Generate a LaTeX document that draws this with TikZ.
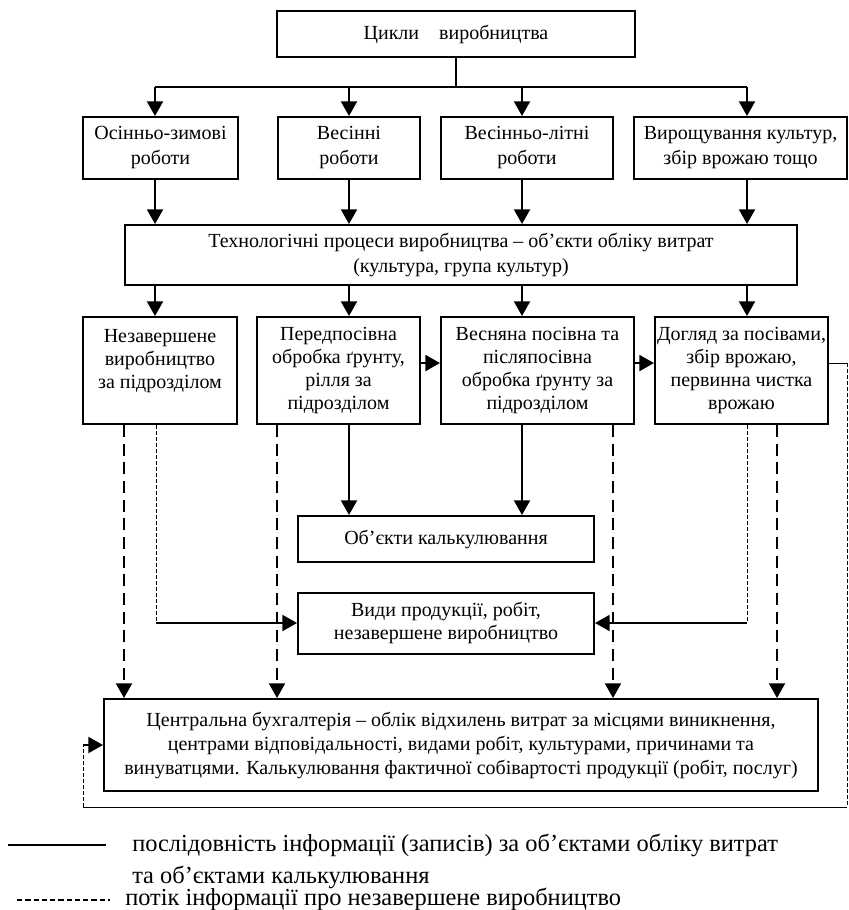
\documentclass[tikz,border=0pt]{standalone}
\usepackage{fontspec}
\setmainfont{Liberation Serif}
\usetikzlibrary{arrows.meta}
\tikzset{font=\fontsize{15}{18.75}\selectfont}
\tikzset{
  box/.style={draw,line width=1.5pt,align=center,inner sep=0pt},
  sz/.style 2 args={minimum width=#1*0.75pt,minimum height=#2*0.75pt},
  arr/.style={line width=1.5pt,-{Triangle[length=11pt,width=12pt]}},
  darr/.style={line width=1.5pt,dash pattern=on 9pt off 5pt,-{Triangle[length=11pt,width=12pt]}},
  tdash/.style={line width=0.7pt,dash pattern=on 3pt off 1.5pt},
  tight/.style={font=\fontsize{15}{17.4}\selectfont},
  legfont/.style={font=\fontsize{18.3}{24}\selectfont}}

\begin{document}
\begin{tikzpicture}[x=0.75pt,y=-0.75pt]
  \useasboundingbox (0,0) rectangle (849,910);
  % columns of the arrows
  \coordinate (c1) at (155,87);
  \coordinate (c2) at (349,87);
  \coordinate (c3) at (522,87);
  \coordinate (c4) at (747,87);
  \coordinate (d1) at (124,0);
  \coordinate (d2) at (277,0);
  \coordinate (d3) at (613,0);
  \coordinate (d4) at (777,0);
  \coordinate (t1) at (156,0);
  \coordinate (t2) at (747,0);
  \coordinate (fr) at (847,807);
  \coordinate (fl) at (83,807);
  % boxes
  \node[box,sz={358}{46}] (cycles) at (456,34) {Цикли\quad виробництва};
  \node[box,sz={155}{62}] (autumn) at (160.5,148) {Осінньо-зимові\\роботи};
  \node[box,sz={142}{62}] (spring) at (349,148) {Весінні\\роботи};
  \node[box,sz={172}{62}] (summer) at (527,148) {Весінньо-літні\\роботи};
  \node[box,sz={213}{62}] (growing) at (740.5,148) {Вирощування культур,\\збір врожаю тощо};
  \node[box,sz={672}{60}] (tech) at (461,255)
    {Технологічні процеси виробництва – об’єкти обліку витрат\\(культура, група культур)};
  \node[box,tight,sz={154}{107}] (unfinished) at (160,370.5) {Незавершене\\виробництво\\за підрозділом\\~};
  \node[box,tight,sz={163}{107}] (presow) at (338.5,370.5) {Передпосівна\\обробка ґрунту,\\рілля за\\підрозділом};
  \node[box,tight,sz={193}{107}] (sowing) at (537.5,370.5) {Весняна посівна та\\післяпосівна\\обробка ґрунту за\\підрозділом};
  \node[box,tight,sz={173}{107}] (care) at (741.5,370.5) {Догляд за посівами,\\збір врожаю,\\первинна чистка\\врожаю};
  \node[box,sz={296}{46}] (calc) at (446,539) {Об’єкти калькулювання};
  \node[box,tight,sz={296}{61}] (kinds) at (446,623) {Види продукції, робіт,\\незавершене виробництво};
  \node[box,sz={714}{92},font=\fontsize{15}{18}\selectfont] (central) at (461,745)
    {Центральна бухгалтерія – облік відхилень витрат за місцями виникнення,\\центрами відповідальності, видами робіт, культурами, причинами та\\винуватцями. Калькулювання фактичної собівартості продукції (робіт, послуг)};
  % solid flow
  \draw[line width=1.5pt] (cycles.south) -- (cycles.south |- c1);
  \draw[line width=1.5pt] (c1) -- (c4);
  \draw[arr] (c1) -- (c1 |- autumn.north);
  \draw[arr] (c2) -- (c2 |- spring.north);
  \draw[arr] (c3) -- (c3 |- summer.north);
  \draw[arr] (c4) -- (c4 |- growing.north);
  \draw[arr] (c1 |- autumn.south) -- (c1 |- tech.north);
  \draw[arr] (c2 |- spring.south) -- (c2 |- tech.north);
  \draw[arr] (c3 |- summer.south) -- (c3 |- tech.north);
  \draw[arr] (c4 |- growing.south) -- (c4 |- tech.north);
  \draw[arr] (c1 |- tech.south) -- (c1 |- unfinished.north);
  \draw[arr] (c2 |- tech.south) -- (c2 |- presow.north);
  \draw[arr] (c3 |- tech.south) -- (c3 |- sowing.north);
  \draw[arr] (c4 |- tech.south) -- (c4 |- care.north);
  \draw[arr] ([yshift=5.6pt]presow.east) -- ([yshift=5.6pt]sowing.west);
  \draw[arr] ([yshift=5.6pt]sowing.east) -- ([yshift=5.6pt]care.west);
  \draw[arr] (c2 |- presow.south) -- (c2 |- calc.north);
  \draw[arr] (c3 |- sowing.south) -- (c3 |- calc.north);
  % unfinished production
  \draw[tdash] (t1 |- unfinished.south) -- (t1 |- kinds.west);
  \draw[arr] (t1 |- kinds.west) -- (kinds.west);
  \draw[tdash] (t2 |- care.south) -- (t2 |- kinds.east);
  \draw[arr] (t2 |- kinds.east) -- (kinds.east);
  \draw[darr] (d1 |- unfinished.south) -- (d1 |- central.north);
  \draw[darr] (d2 |- presow.south) -- (d2 |- central.north);
  \draw[darr] (d3 |- sowing.south) -- (d3 |- central.north);
  \draw[darr] (d4 |- care.south) -- (d4 |- central.north);
  % loop back to the central box
  \draw[line width=0.7pt] ([yshift=5.6pt]care.east) -- ([yshift=5.6pt]care.east -| fr);
  \draw[tdash] ([yshift=5.6pt]care.east -| fr) -- (fr);
  \draw[line width=0.7pt] (fr) -- (fl);
  \draw[tdash] (fl) -- (fl |- central.west);
  \draw[arr] (fl |- central.west) -- (central.west);
  % legend
  \coordinate (s1) at (8,845);
  \coordinate (s2) at (17,900);
  \draw[line width=1pt] (s1) -- ++(98,0);
  \node[legfont,anchor=west,align=left,inner sep=0pt] (leg1) at (132,861)
    {послідовність інформації (записів) за об’єктами обліку витрат\\та об’єктами калькулювання};
  \draw[line width=0.8pt,dash pattern=on 4pt off 2.2pt] (s2) -- ++(93,0);
  \node[legfont,anchor=west,inner sep=0pt] (leg2) at (125,899) {потік інформації про незавершене виробництво};
\end{tikzpicture}
\end{document}
